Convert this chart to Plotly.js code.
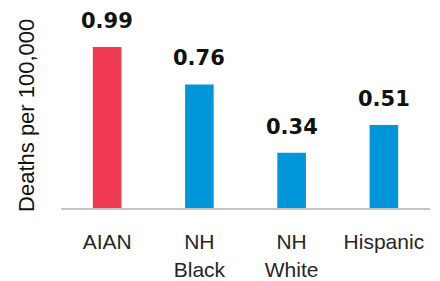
<!DOCTYPE html>
<html>
<head>
<meta charset="utf-8">
<script src="https://cdn.plot.ly/plotly-3.0.1.min.js"></script>
<style>html,body{margin:0;padding:0;background:#fff;}#chart{width:440px;height:281px;}</style>
</head>
<body>
<div id="chart"></div>
<script>
const categories = ["AIAN", "NH<br>Black", "NH<br>White", "Hispanic"];
const values = [0.99, 0.76, 0.34, 0.51];
const barColors = ["#EF3A51", "#0096D9", "#0096D9", "#0096D9"];
const valueLabels = ["0.99", "0.76", "0.34", "0.51"];
const yTitle = "Deaths per 100,000";

const trace = {
  type: "bar",
  x: categories,
  y: values,
  marker: {color: barColors},
  width: 0.31,
  hoverinfo: "none"
};

const annotations = categories.map((c, i) => ({
  x: c, y: values[i], xref: "x", yref: "y",
  text: "<b>" + valueLabels[i] + "</b>", showarrow: false,
  yanchor: "bottom", yshift: 12,
  font: {family: "DejaVu Sans", size: 21, color: "#111"}
}));
annotations.push({
  text: yTitle, xref: "paper", yref: "paper",
  x: 0, y: 0.465, xanchor: "center", yanchor: "middle",
  xshift: -34, textangle: -90, showarrow: false,
  font: {family: "Liberation Sans", size: 22, color: "#111"}
});

const layout = {
  width: 440, height: 281,
  margin: {l: 61, r: 10, t: 10, b: 73},
  paper_bgcolor: "#fff", plot_bgcolor: "#fff",
  showlegend: false,
  xaxis: {
    showgrid: false, zeroline: false,
    showline: true, linecolor: "#c4c4c4", linewidth: 2,
    ticks: "", ticklabelstandoff: 14,
    tickfont: {family: "Liberation Sans", size: 21, color: "#262626"}
  },
  yaxis: {
    range: [0, 1.218],
    showgrid: false, zeroline: false, showline: false,
    showticklabels: false, ticks: ""
  },
  annotations: annotations
};

Plotly.newPlot("chart", [trace], layout, {displayModeBar: false, staticPlot: true});
</script>
</body>
</html>
